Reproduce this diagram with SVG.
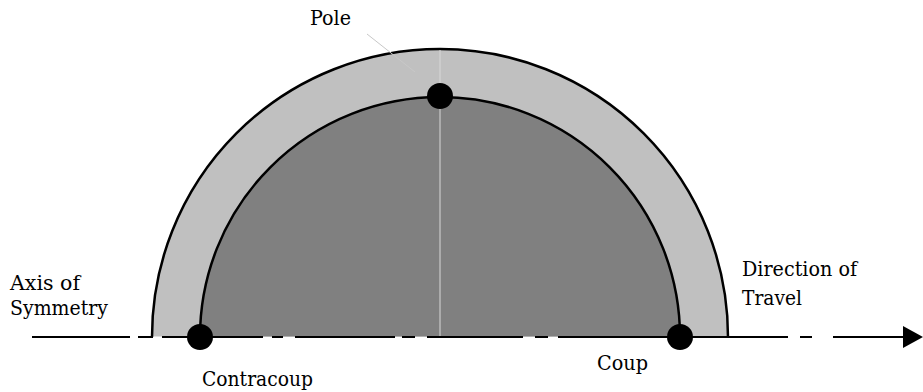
<svg xmlns="http://www.w3.org/2000/svg" width="923" height="392" viewBox="0 0 923 392">
<style>
text{font-family:'DejaVu Serif',serif;font-size:21px;fill:#000}
.dot{fill:#000}
.arc{stroke:#000;stroke-width:2.5}
</style>
<rect width="923" height="392" fill="#fff"/>
<g id="outer">
<path d="M152,336.5 A288,288 0 0 1 728,336.5 Z" fill="#c0c0c0" stroke="none"/>
<path d="M152,337 A288,288 0 0 1 728,337" fill="none" class="arc"/>
</g>
<g id="inner">
<path d="M200,336.5 A240,240 0 0 1 680,336.5 Z" fill="#808080" stroke="none"/>
<path d="M200,337 A240,240 0 0 1 680,337" fill="none" class="arc" stroke-width="2"/>
</g>
<line x1="440" y1="50" x2="440" y2="336" stroke="#d8d8d8" stroke-width="1"/>
<g id="connectors">
<path d="M32,337H130M138,337H153M162,337H263M272,337H283M295,337H395M402,337H415M427,337H523M535,337H548M558,337H788M800,337H812M833,337H905" fill="none" stroke="#000" stroke-width="2"/>
<polygon points="903,326 923,337 903,348" fill="#000"/>
<line x1="367" y1="34" x2="415" y2="72" stroke="#c8c8c8" stroke-width="1"/>
</g>
<g id="pole">
<circle cx="440" cy="96" r="13" class="dot"/>
<text x="310" y="25" textLength="41" lengthAdjust="spacingAndGlyphs">Pole</text>
</g>
<g id="contracoup">
<circle cx="200" cy="337" r="13" class="dot"/>
<text x="202" y="386" textLength="111" lengthAdjust="spacingAndGlyphs">Contracoup</text>
</g>
<g id="coup">
<circle cx="680" cy="337" r="13" class="dot"/>
<text x="597" y="370" textLength="51" lengthAdjust="spacingAndGlyphs">Coup</text>
</g>
<g id="axis">
<text x="10" y="290" textLength="70" lengthAdjust="spacingAndGlyphs">Axis of</text>
<text x="10" y="315" textLength="98" lengthAdjust="spacingAndGlyphs">Symmetry</text>
</g>
<g id="direction">
<text x="742" y="276" textLength="115" lengthAdjust="spacingAndGlyphs">Direction of</text>
<text x="742" y="305" textLength="60" lengthAdjust="spacingAndGlyphs">Travel</text>
</g>
</svg>
